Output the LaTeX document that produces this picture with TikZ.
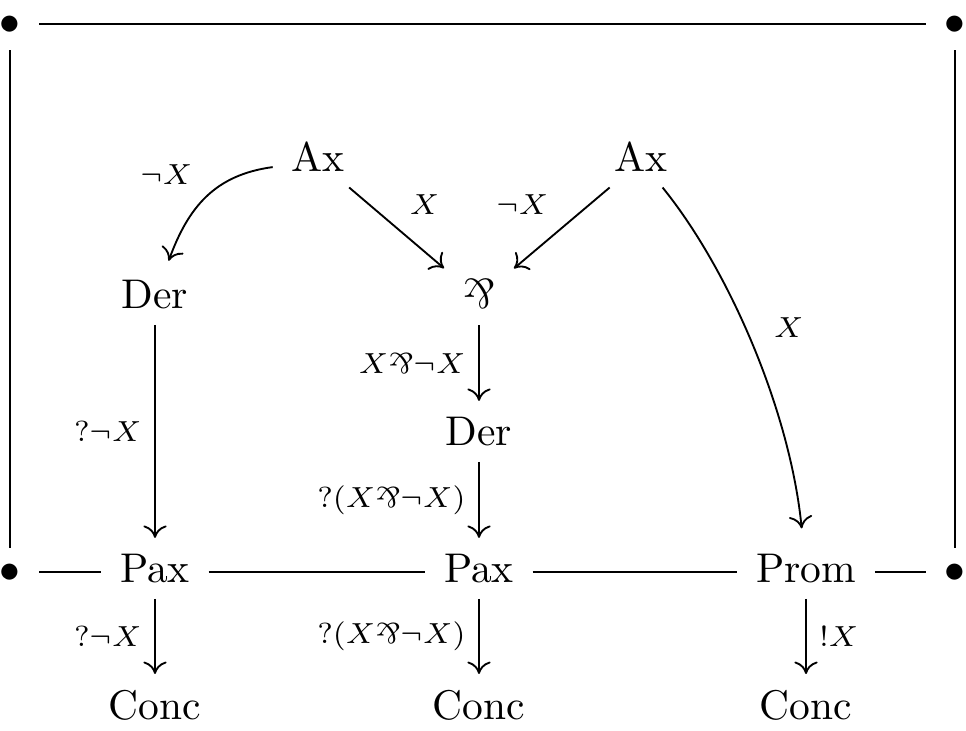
\documentclass[tikz,border=0pt]{standalone}
\usepackage{graphicx}
\usetikzlibrary{arrows.meta,cd}
\newcommand{\mypar}{\rotatebox[origin=c]{180}{\&}}
\begin{document}
\begin{tikzpicture}[x=0.241pt,y=0.241pt,line width=0.45pt,
  cell/.style={shape=asymmetrical rectangle, inner xsep=1ex, inner ysep=0.85ex},
  lbl/.style={font=\scriptsize, inner sep=3pt},
  arr/.style={-{Computer Modern Rightarrow[length=3pt,width=5.6pt]}}]
\useasboundingbox (0,0) rectangle (966,730);
\node[cell] (tl) at (10,706) {$\bullet$};
\node[cell] (tr) at (955,706) {$\bullet$};
\node[cell] (bl) at (10,158) {$\bullet$};
\node[cell] (br) at (955,158) {$\bullet$};
\node[cell] (ax1) at (318,569) {Ax};
\node[cell] (ax2) at (641,569) {Ax};
\node[cell] (der1) at (155,432) {Der};
\node[cell] (par) at (479,432) {\mypar};
\node[cell] (der2) at (479,295) {Der};
\node[cell] (pax1) at (155,158) {Pax};
\node[cell] (pax2) at (479,158) {Pax};
\node[cell] (prom) at (806,158) {Prom};
\node[cell] (c1) at (155,21) {Conc};
\node[cell] (c2) at (479,21) {Conc};
\node[cell] (c3) at (806,21) {Conc};
\draw (tl) -- (tr);
\draw (tl) -- (bl);
\draw (tr) -- (br);
\draw (bl) -- (pax1);
\draw (pax1) -- (pax2);
\draw (pax2) -- (prom);
\draw (prom) -- (br);
\draw[arr,shorten >=0.8pt] (ax1) .. controls (214,555) and (188,522) .. (der1)
  node[lbl,pos=0.5,anchor=south east] {$\neg X$};
\draw[arr] (ax1) -- (par) node[lbl,midway,anchor=south west] {$X$};
\draw[arr] (ax2) -- (par) node[lbl,midway,anchor=south east] {$\neg X$};
\draw[arr,shorten >=2.3pt] (ax2) .. controls (728,462) and (790,320) .. (prom)
  node[lbl,pos=0.5,anchor=south west,xshift=2pt,yshift=-1.5pt] {$X$};
\draw[arr] (der1) -- (pax1) node[lbl,midway,left] {$?\neg X$};
\draw[arr] (par) -- (der2) node[lbl,midway,left] {$X\mypar\neg X$};
\draw[arr] (der2) -- (pax2) node[lbl,midway,left] {$?(X\mypar\neg X)$};
\draw[arr] (pax1) -- (c1) node[lbl,midway,left] {$?\neg X$};
\draw[arr] (pax2) -- (c2) node[lbl,midway,left] {$?(X\mypar\neg X)$};
\draw[arr] (prom) -- (c3) node[lbl,midway,right] {$!X$};
\end{tikzpicture}
\end{document}
